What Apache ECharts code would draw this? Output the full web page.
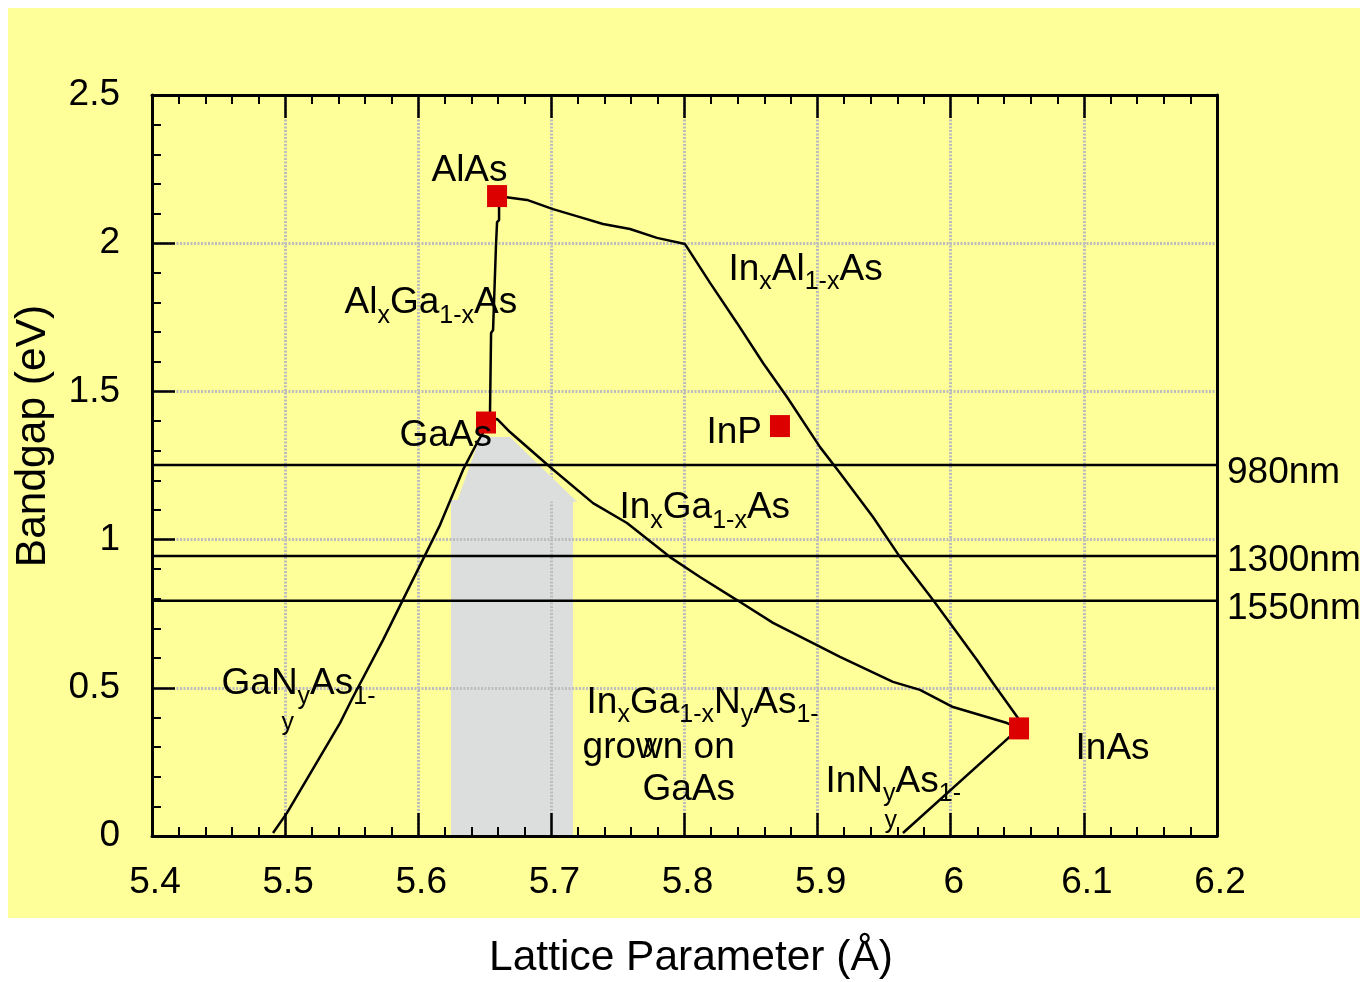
<!DOCTYPE html>
<html>
<head>
<meta charset="utf-8">
<script src="https://cdn.jsdelivr.net/npm/echarts@6/dist/echarts.min.js"></script>
<style>
html,body{margin:0;padding:0;background:#fff;}
#chart{width:1360px;height:982px;}
</style>
</head>
<body>
<div id="chart"></div>
<script>
// ---------------- data ----------------
const xTicksMin = 5.4, xTicksMax = 6.2, xTickStep = 0.1;
const yTicksMin = 0, yTicksMax = 2.5, yTickStep = 0.5;

const compoundNames = ['AlAs', 'GaAs', 'InP', 'InAs'];
const compoundX = [5.6592, 5.6509, 5.8717, 6.0513];
const compoundY = [2.159, 1.395, 1.383, 0.363];

const alGaAsX = [5.6592, 5.6607, 5.6607, 5.6592, 5.6584, 5.6569, 5.6562, 5.6547, 5.6539, 5.6509];
const alGaAsY = [2.159, 2.122, 2.078, 2.071, 1.993, 1.987, 1.707, 1.697, 1.430, 1.395];

const inAlAsX = [5.6592, 5.6817, 5.7012, 5.7215, 5.7388, 5.7591, 5.7793, 5.8004, 5.8192, 5.8394, 5.8590,
                 5.8770, 5.9018, 5.9168, 5.9416, 5.9619, 5.9867, 5.9994, 6.0197, 6.0317, 6.0505, 6.0513];
const inAlAsY = [2.159, 2.146, 2.115, 2.088, 2.065, 2.048, 2.018, 1.997, 1.866, 1.731, 1.596,
                 1.481, 1.312, 1.225, 1.076, 0.941, 0.796, 0.719, 0.594, 0.516, 0.398, 0.363];

const inGaAsX = [5.6509, 5.6592, 5.6689, 5.6990, 5.7313, 5.7568, 5.7891, 5.8116, 5.8394, 5.8665,
                 5.8965, 5.9168, 5.9566, 5.9769, 6.0017, 6.0423, 6.0513];
const inGaAsY = [1.395, 1.407, 1.363, 1.245, 1.123, 1.056, 0.941, 0.874, 0.796, 0.719,
                 0.651, 0.604, 0.520, 0.493, 0.435, 0.381, 0.363];

const gaNAsX = [5.4909, 5.5014, 5.5412, 5.5510, 5.5735, 5.6163, 5.6336, 5.6441, 5.6486, 5.6509];
const gaNAsY = [0.010, 0.078, 0.381, 0.469, 0.661, 1.049, 1.235, 1.326, 1.360, 1.395];

const inNAsX = [6.0513, 5.9641];
const inNAsY = [0.363, 0.010];

const wavelengthNames = ['980nm', '1300nm', '1550nm'];
const wavelengthEv = [1.2517, 0.9447, 0.7939];

// grey region "InGaNAs grown on GaAs"
const greyBaseX = [5.6246, 5.7162];
const greyBaseTop = [1.134, 1.134];
const greyCapX = [5.6291, 5.6464, 5.6689, 5.7193];
const greyCapY = [1.128, 1.346, 1.346, 1.128];

// annotation anchors (data coords of the left edge / centre of each text line)
const annotationText = [
  'AlAs', 'Al_{x}Ga_{1-x}As', 'GaAs', 'InP', 'In_{x}Al_{1-x}As', 'In_{x}Ga_{1-x}As',
  'GaN_{y}As_{1-}', '_{y}', 'In_{x}Ga_{1-x}N_{y}As_{1-}', 'grown on', '_{y}', 'GaAs',
  'InAs', 'InN_{y}As_{1-}', '_{y}'
];
const annotationX = [5.6103, 5.5450, 5.5863, 5.8169, 5.8334, 5.7515,
                     5.4526, 5.4977, 5.7268, 5.7238, 5.7703, 5.7688,
                     6.0941, 5.9063, 5.9506];
const annotationY = [2.2537, 1.8084, 1.3597, 1.3698, 1.9214, 1.1167,
                     0.5229, 0.4352, 0.4605, 0.3070, 0.3610, 0.1653,
                     0.3053, 0.1940, 0.1046];

const xAxisTitle = 'Lattice Parameter (Å)';
const yAxisTitle = 'Bandgap (eV)';

// ---------------- chart ----------------
const FONT = '"Liberation Sans", Arial, Helvetica, sans-serif';
const zip = (xs, ys) => xs.map((x, i) => [x, ys[i]]);
function toRich(str) {
  const parts = str.split(/_\{([^}]*)\}/);
  return parts.map((t, i) => (i % 2 ? '{s|' + t + '}' : (t ? '{b|' + t + '}' : ''))).join('');
}

const curveStyle = { color: '#000', width: 2.5 };
function curve(name, xs, ys) {
  return {
    name, type: 'line', data: zip(xs, ys), showSymbol: false, symbol: 'none',
    lineStyle: curveStyle, z: 3, silent: true, clip: false
  };
}

const wlOffsets = [[0, 8], [0, 5], [0, 8]];
const wavelengthSeries = wavelengthNames.map((n, i) => ({
  name: n, type: 'line', data: [[xTicksMin, wavelengthEv[i]], [xTicksMax, wavelengthEv[i]]],
  showSymbol: false, symbol: 'none', silent: true, z: 3,
  lineStyle: { color: '#000', width: 2.4 },
  endLabel: { show: true, formatter: p => p.seriesName, distance: 10, offset: wlOffsets[i],
              fontSize: 37, fontFamily: FONT, color: '#000' }
}));

const tickLabelStyle = { color: '#000', fontSize: 37, fontFamily: FONT, lineHeight: 37 };
const gridLine = { show: true, lineStyle: { color: '#bdbdbd', width: 3, type: [2, 1.5] } };

const option = {
  animation: false,
  textStyle: { fontFamily: FONT },
  grid: { left: 152, top: 95, right: 143, bottom: 146, containLabel: false },
  graphic: [
    { type: 'rect', z: -10, silent: true, shape: { x: 8, y: 8, width: 1352, height: 910 },
      style: { fill: '#ffff99' } },
    { type: 'text', x: 691, y: 958, silent: true,
      style: { text: xAxisTitle, fontSize: 42.5, fontFamily: FONT, fill: '#000', align: 'center', verticalAlign: 'middle' } },
    { type: 'text', x: 33, y: 436, rotation: Math.PI / 2, silent: true,
      style: { text: yAxisTitle, fontSize: 42.5, fontFamily: FONT, fill: '#000', align: 'center', verticalAlign: 'middle' } }
  ],
  xAxis: [
    {
      type: 'value', position: 'bottom', min: xTicksMin, max: xTicksMax, interval: xTickStep,
      axisLine: { show: true, onZero: false, lineStyle: { color: '#000', width: 3 } },
      axisTick: { show: true, inside: true, length: 23, lineStyle: { color: '#000', width: 2.5 } },
      minorTick: { show: true, splitNumber: 5, length: 9, lineStyle: { color: '#000', width: 2 } },
      splitLine: gridLine,
      axisLabel: Object.assign({ margin: 28, padding: [0, 0, 0, 6] }, tickLabelStyle)
    },
    {
      type: 'value', position: 'top', min: xTicksMin, max: xTicksMax, interval: xTickStep,
      axisLine: { show: true, onZero: false, lineStyle: { color: '#000', width: 3 } },
      axisTick: { show: true, inside: true, length: 23, lineStyle: { color: '#000', width: 2.5 } },
      minorTick: { show: true, splitNumber: 5, length: 9, lineStyle: { color: '#000', width: 2 } },
      splitLine: { show: false }, axisLabel: { show: false }
    }
  ],
  yAxis: [
    {
      type: 'value', position: 'left', min: yTicksMin, max: yTicksMax, interval: yTickStep,
      axisLine: { show: true, onZero: false, lineStyle: { color: '#000', width: 3 } },
      axisTick: { show: true, inside: true, length: 23, lineStyle: { color: '#000', width: 2.5 } },
      minorTick: { show: true, splitNumber: 5, length: 9, lineStyle: { color: '#000', width: 2 } },
      splitLine: gridLine,
      axisLabel: Object.assign({ margin: 32, padding: [0, 0, 4, 0] }, tickLabelStyle)
    },
    {
      type: 'value', position: 'right', min: yTicksMin, max: yTicksMax, interval: yTickStep,
      axisLine: { show: true, onZero: false, lineStyle: { color: '#000', width: 3 } },
      axisTick: { show: false }, splitLine: { show: false }, axisLabel: { show: false }
    }
  ],
  series: [
    {
      name: 'greyBase', type: 'line', z: -5, silent: true, data: zip(greyBaseX, greyBaseTop),
      showSymbol: false, symbol: 'none', lineStyle: { width: 0, opacity: 0 },
      areaStyle: { color: '#dcdddd', opacity: 1, origin: 'start' }
    },
    {
      name: 'greyCap', type: 'custom', z: 1, silent: true, clip: false,
      data: zip(greyCapX, greyCapY),
      renderItem: (params, api) => {
        if (params.dataIndex !== 0) return null;
        const pts = greyCapX.map((x, i) => api.coord([x, greyCapY[i]]));
        return { type: 'polygon', shape: { points: pts }, style: { fill: '#dcdddd' } };
      }
    },
    ...wavelengthSeries,
    curve('AlGaAs', alGaAsX, alGaAsY),
    curve('InAlAs', inAlAsX, inAlAsY),
    curve('InGaAs', inGaAsX, inGaAsY),
    curve('GaNAs', gaNAsX, gaNAsY),
    curve('InNAs', inNAsX, inNAsY),
    {
      name: 'compounds', type: 'scatter', z: 5, silent: true,
      data: compoundX.map((x, i) => ({ name: compoundNames[i], value: [x, compoundY[i]] })),
      symbol: 'rect', symbolSize: [20, 22], itemStyle: { color: '#dd0000', opacity: 1 }
    },
    {
      name: 'annotations', type: 'scatter', z: 6, silent: true,
      data: annotationX.map((x, i) => [x, annotationY[i], annotationText[i]]),
      symbolSize: 1, itemStyle: { color: '#ffff99', opacity: 1 },
      label: {
        show: true, position: [0, 0], align: 'left', verticalAlign: 'top', offset: [0, -15],
        formatter: p => toRich(p.data[2]), color: '#000', opacity: 1,
        rich: {
          b: { fontSize: 37, lineHeight: 37, fontFamily: FONT, color: '#000', verticalAlign: 'top' },
          s: { fontSize: 25, lineHeight: 25, fontFamily: FONT, color: '#000', verticalAlign: 'top', padding: [19, 0, 0, 0] }
        }
      }
    }
  ]
};

const chart = echarts.init(document.getElementById('chart'), null, { renderer: 'canvas' });
chart.setOption(option);
</script>
</body>
</html>
